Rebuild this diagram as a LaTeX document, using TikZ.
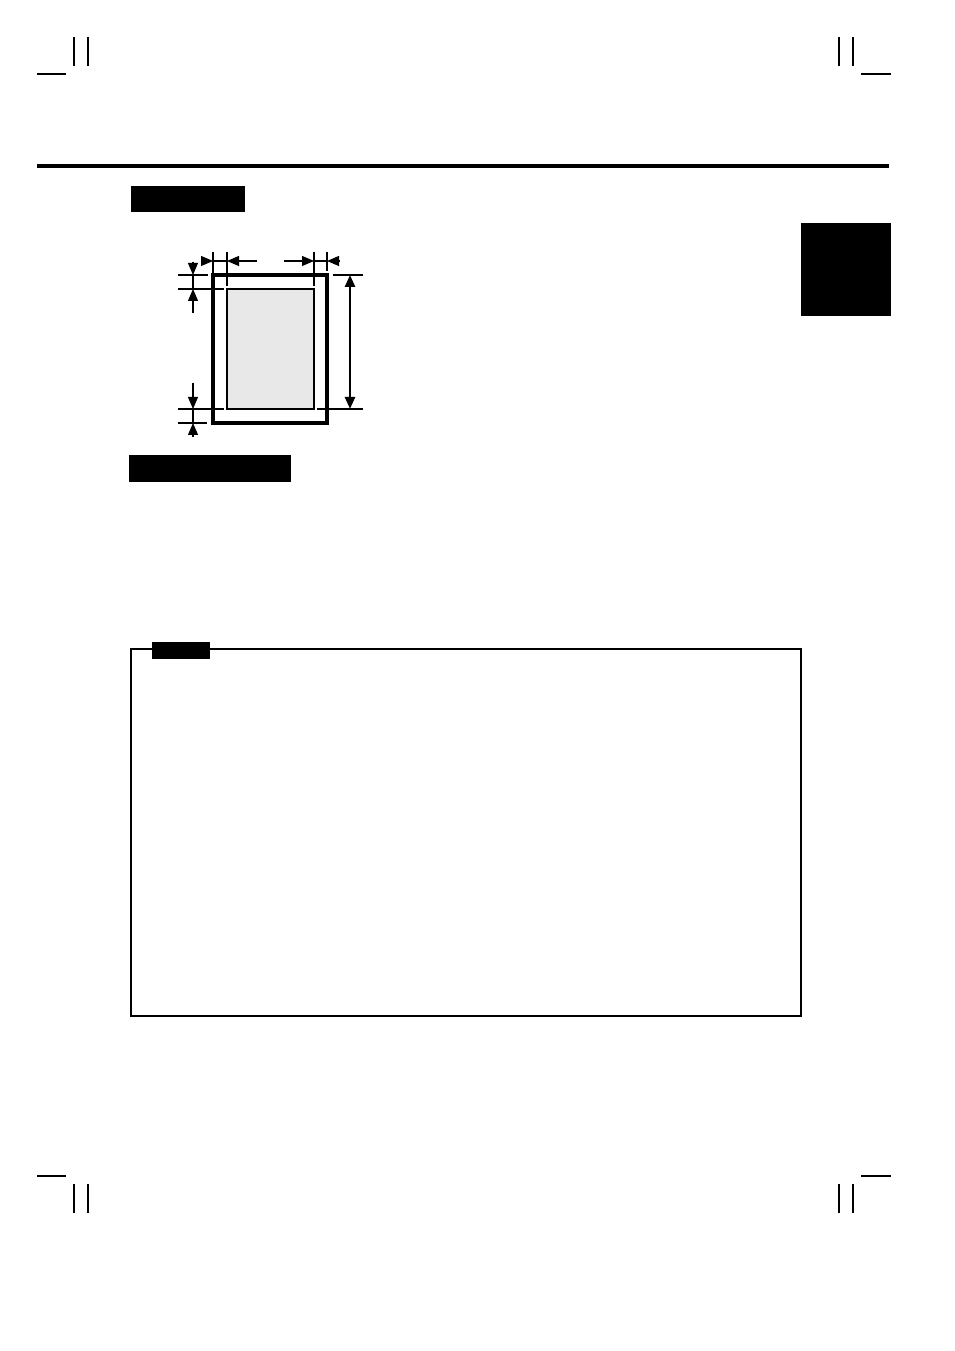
\documentclass[tikz,border=0pt]{standalone}
\usepackage{tikz}
\usetikzlibrary{arrows.meta, positioning, calc}

\begin{document}
\begin{tikzpicture}[
    x=0.1mm, y=-0.1mm,
    >={Triangle[length=1.2mm, width=1mm]},
    thinline/.style={line width=0.3pt},
    cropline/.style={line width=0.35pt},
    sheet/.style={draw, line width=0.9pt},
    printarea/.style={draw, line width=0.3pt, fill=black!9},
    dimline/.style={->, line width=0.3pt},
    bigdim/.style={<->, line width=0.7pt},
    blackbar/.style={fill=black, draw=none, inner sep=0pt, anchor=north west}
]
\useasboundingbox (0,0) rectangle (954,1351);

% 1) crop marks
\foreach \yy/\ys in {74/1, 1176/-1} {
  \draw[cropline] (37,\yy) -- (66,\yy);
  \draw[cropline] (861,\yy) -- (891,\yy);
  \fill (74,\yy) circle (0.2);
}
\foreach \xx in {74, 88, 839, 853} {
  \draw[cropline] (\xx,37) -- (\xx,66);
  \draw[cropline] (\xx,1184) -- (\xx,1213);
}

% 2) header rule and black bars
\draw[line width=1.15pt] (37,166) -- (889,166);
\node[blackbar, minimum width=11.4mm, minimum height=2.6mm] (titleA) at (130,185) {};
\node[blackbar, minimum width=9mm, minimum height=9.3mm] (tab) at (800,222) {};
\node[blackbar, minimum width=16.2mm, minimum height=2.7mm] (titleB) at (128,454) {};

% 3) sheet and printable area
\coordinate (sheetNW) at (213,275);
\coordinate (sheetSE) at (327,423);
\coordinate (areaNW) at (227,289);
\coordinate (areaSE) at (314,409);
\draw[sheet] (sheetNW) rectangle (sheetSE);
\draw[printarea] (areaNW) rectangle (areaSE);

% extension lines, top
\draw[thinline] (213,252) -- (sheetNW);
\draw[thinline] (227,252) -- (227,286);
\draw[thinline] (314,252) -- (314,286);
\draw[thinline] (327,252) -- (327,271);

% horizontal margins
\coordinate (lA) at (202,261);
\coordinate (lB) at (257,261);
\coordinate (rA) at (284,261);
\coordinate (rB) at (340,261);
\draw[dimline] (lA) -- (213,261);
\draw[thinline] (213,261) -- (227,261);
\draw[dimline] (lB) -- (227,261);
\draw[dimline] (rA) -- (314,261);
\draw[thinline] (314,261) -- (327,261);
\draw[dimline] (rB) -- (327,261);

% extension lines, left
\draw[thinline] (178,275) -- (208,275);
\draw[thinline] (178,289) -- (224,289);
\draw[thinline] (178,409) -- (224,409);
\draw[thinline] (178,423) -- (207,423);

% vertical margins
\draw[dimline] (193,262) -- (193,275);
\draw[thinline] (193,275) -- (193,289);
\draw[dimline] (193,313) -- (193,289);
\draw[dimline] (193,383) -- (193,409);
\draw[thinline] (193,409) -- (193,423);
\draw[dimline] (193,437) -- (193,423);

% printable height
\draw[thinline] (333,275) -- (363,275);
\draw[thinline] (317,409) -- (363,409);
\draw[bigdim] (350,275) -- (350,409);

% 4) note frame
\draw[line width=0.4pt] (131,1016) -- (131,649) -- (801,649) -- (801,1016) -- cycle;
\node[blackbar, minimum width=5.8mm, minimum height=1.7mm] (noteTab) at (151,641) {};

\end{tikzpicture}
\end{document}
